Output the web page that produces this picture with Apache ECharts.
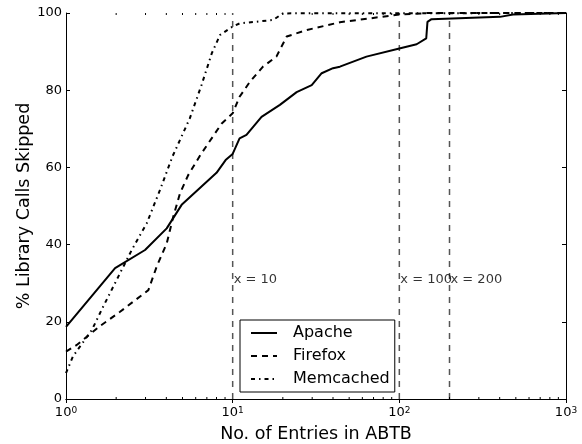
<!DOCTYPE html>
<html>
<head>
<meta charset="utf-8">
<script src="https://cdn.jsdelivr.net/npm/echarts@6/dist/echarts.min.js"></script>
<style>
  html, body { margin: 0; padding: 0; background: #fff; }
  #main { width: 582px; height: 444px; }
</style>
</head>
<body>
<div id="main"></div>
<script>
// data: [entries, % skipped]
var apache = [[1,18.7],[1.97,33.9],[2.98,38.6],[4.02,44.2],[4.94,50.3],[8,58.6],[9.07,61.9],[10,63.5],[11,67.5],[12.1,68.4],[14.9,73.1],[19.2,76.2],[24.2,79.5],[29.8,81.3],[34.2,84.4],[40,85.7],[44,86.1],[63.5,88.7],[100,90.8],[127,91.9],[145,93.4],[147.5,97.7],[156,98.4],[402,99.0],[481,99.6],[1000,100]];
var firefox = [[1,12.3],[1.16,14.0],[1.6,18.9],[2.11,22.6],[3.12,28.2],[3.5,34.3],[4.02,40.3],[4.4,47.2],[4.83,53.3],[5.41,58.0],[6.4,63.2],[8.6,71.4],[10,74.0],[11,78.3],[12.7,82.2],[15.2,86.1],[18.3,88.7],[21.1,93.9],[27.9,95.6],[44,97.6],[100,99.6],[150,100],[1000,100]];
var memcached = [[1,6.7],[1.1,11.0],[1.43,17.9],[1.67,23.9],[2.06,31.7],[2.48,38.6],[3.05,45.5],[3.66,54.1],[4.35,62.8],[5.53,72.7],[6.5,81.3],[7.5,89.6],[8.4,94.3],[10,96.5],[11,97.3],[17.5,98.2],[20,99.9],[1000,100]];
var markX = [10, 100, 200];
var markLabelY = 31;
var minorTicks = [2,3,4,5,6,7,8,9,20,30,40,50,60,70,80,90,200,300,400,500,600,700,800,900];

var font = 'DejaVu Sans';
var chartDom = document.getElementById('main');
var myChart = echarts.init(chartDom);

function vline(x) {
    return {
        type: 'line', data: [[x, 0], [x, 100]], symbol: 'none', silent: true,
        lineStyle: { color: '#555', width: 1.5, type: [6, 6] }, z: 1
    };
}

var option = {
    animation: false,
    textStyle: { fontFamily: font },
    grid: { left: 66, right: 16, top: 13, bottom: 45, containLabel: false, outerBoundsMode: 'none' },
    legend: {
        left: 240, top: 320, orient: 'vertical',
        data: ['Apache', 'Firefox', 'Memcached'],
        borderColor: '#000', borderWidth: 1, borderRadius: 0,
        padding: [4, 5, 4, 10],
        itemWidth: 26, itemHeight: 14, itemGap: 5,
        itemStyle: { opacity: 0 },
        textStyle: { fontFamily: font, fontSize: 16, color: '#000', lineHeight: 18, padding: [0, 0, 0, 11] },
        backgroundColor: '#fff'
    },
    xAxis: [{
        type: 'log', logBase: 10, min: 1, max: 1000,
        name: 'No. of Entries in ABTB', nameLocation: 'middle', nameGap: 26,
        nameTextStyle: { fontFamily: font, fontSize: 17.5, color: '#000' },
        axisLine: { lineStyle: { color: '#000', width: 1 } },
        axisTick: { inside: true, length: 4, lineStyle: { color: '#000' } },
        splitLine: { show: false },
        axisLabel: {
            margin: 7, color: '#000',
            formatter: function (v) { return '{b|10}{s|' + Math.round(Math.log10(v)) + '}'; },
            rich: {
                b: { fontFamily: font, fontSize: 13, color: '#000', lineHeight: 13, verticalAlign: 'bottom' },
                s: { fontFamily: font, fontSize: 9, color: '#000', lineHeight: 9, verticalAlign: 'top', padding: [0, 0, 6, 0] }
            }
        }
    }, {
        type: 'log', logBase: 10, min: 1, max: 1000, position: 'top',
        axisLine: { lineStyle: { color: '#000', width: 1 } },
        axisTick: { inside: true, length: 4, lineStyle: { color: '#000' } },
        axisLabel: { show: false }, splitLine: { show: false }
    }],
    yAxis: [{
        type: 'value', min: 0, max: 100, interval: 20,
        name: '% Library Calls Skipped', nameLocation: 'middle', nameGap: 33,
        nameMoveOverlap: false,
        nameTextStyle: { fontFamily: font, fontSize: 17.5, color: '#000' },
        axisLine: { show: true, lineStyle: { color: '#000', width: 1 } },
        axisTick: { show: true, inside: true, length: 4, lineStyle: { color: '#000' } },
        splitLine: { show: false },
        axisLabel: { fontFamily: font, fontSize: 13, color: '#000', margin: 4 }
    }, {
        type: 'value', min: 0, max: 100, interval: 20, position: 'right',
        axisLine: { show: true, lineStyle: { color: '#000', width: 1 } },
        axisTick: { show: true, inside: true, length: 4, lineStyle: { color: '#000' } },
        axisLabel: { show: false }, splitLine: { show: false }
    }],
    series: [
        {
            name: 'Apache', type: 'line', data: apache, symbol: 'none', z: 3,
            lineStyle: { color: '#000', width: 2, type: 'solid' }, itemStyle: { color: '#000' }
        },
        {
            name: 'Firefox', type: 'line', data: firefox, symbol: 'none', z: 3,
            lineStyle: { color: '#000', width: 2, type: [6, 5] }, itemStyle: { color: '#000' }
        },
        {
            name: 'Memcached', type: 'line', data: memcached, symbol: 'none', z: 3,
            lineStyle: { color: '#000', width: 2, type: [4, 4, 1.5, 4] }, itemStyle: { color: '#000' }
        },
        vline(markX[0]), vline(markX[1]), vline(markX[2]),
        {
            type: 'scatter', silent: true, symbolSize: 0,
            data: markX.map(function (x) { return [x, markLabelY]; }),
            label: {
                show: true, position: 'right', distance: 1,
                fontFamily: font, fontSize: 13, color: '#000',
                formatter: function (p) { return 'x = ' + p.value[0]; }
            }
        },
        {
            // minor log ticks along the bottom and top
            type: 'custom', silent: true, data: minorTicks,
            renderItem: function (params, api) {
                var b = api.coord([api.value(0), 0]);
                var t = api.coord([api.value(0), 100]);
                return {
                    type: 'group', children: [
                        { type: 'line', shape: { x1: b[0], y1: b[1], x2: b[0], y2: b[1] - 2 }, style: { stroke: '#000', lineWidth: 1 } },
                        { type: 'line', shape: { x1: t[0], y1: t[1], x2: t[0], y2: t[1] + 2 }, style: { stroke: '#000', lineWidth: 1 } }
                    ]
                };
            },
            encode: { x: 0 }
        }
    ]
};

option && myChart.setOption(option);
</script>
</body>
</html>
